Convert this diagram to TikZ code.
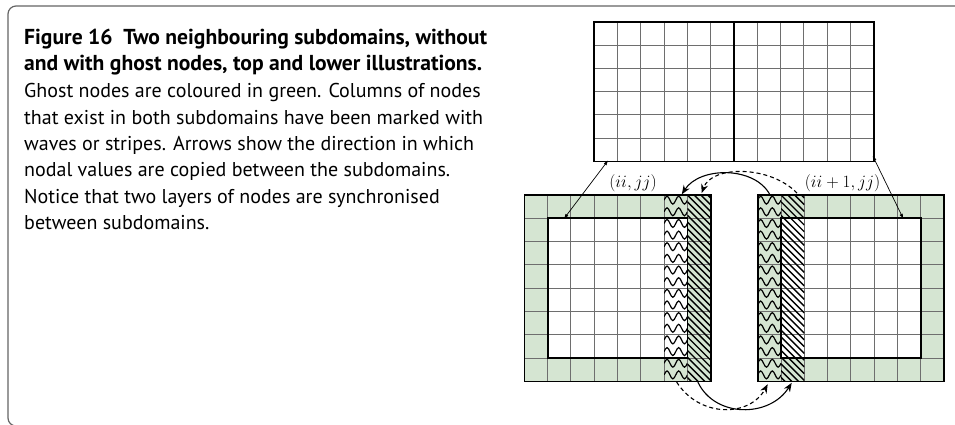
\documentclass[tikz,border=0pt]{standalone}
\usepackage{fontspec}
\usetikzlibrary{arrows.meta}
\newfontfamily\capfont{PT Sans}
\definecolor{ghostgreen}{RGB}{213,229,210}
\definecolor{gridgray}{RGB}{110,110,110}
\definecolor{framegray}{RGB}{100,100,100}

% wavy marking of one column (in cell units of the enclosing scope)
\newcommand{\wavecolumn}[1]{%
  \begin{scope}
    \clip (#1,0) rectangle ({#1+1},8);
    \foreach \k in {0,...,16}
      \draw[waveline] (#1,{\k*0.5+0.22})
        sin ++(0.125,-0.17) cos ++(0.125,0.17) sin ++(0.125,0.17) cos ++(0.125,-0.17)
        sin ++(0.125,-0.17) cos ++(0.125,0.17) sin ++(0.125,0.17) cos ++(0.125,-0.17);
  \end{scope}}
% striped marking of one column
\newcommand{\stripecolumn}[1]{%
  \begin{scope}
    \clip (#1,0) rectangle ({#1+1},8);
    \foreach \k in {-4,...,28}
      \draw[stripeline] (#1,{\k*0.29}) -- ++(1,1);
  \end{scope}}
% cell grid of an 8x8 subdomain with ghost layer
\newcommand{\subdomaingrid}{%
  \fill[ghostgreen] (0,0) rectangle (8,8);
  \fill[white] (1,1) rectangle (7,7);
  \foreach \i in {1,...,7} {
    \draw[gridline] (\i,0) -- (\i,8);
    \draw[gridline] (0,\i) -- (8,\i);
  }}

\begin{document}
\begin{tikzpicture}[x=1pt,y=-1pt,
  gridline/.style={draw=gridgray,line width=0.9pt},
  domainedge/.style={draw=black,line width=1.6pt},
  inneredge/.style={draw=black,line width=1.8pt},
  waveline/.style={draw=black,line width=1.2pt},
  stripeline/.style={draw=black,line width=1.4pt},
  copyarrow/.style={line width=1.1pt,-{Stealth[length=9pt,width=7pt]}},
  copydashed/.style={copyarrow,dash pattern=on 4pt off 3pt},
  linkarrow/.style={line width=0.7pt,{Latex[length=5pt,width=3.5pt]}-{Latex[length=5pt,width=3.5pt]}},
  capline/.style={anchor=base west,inner sep=0pt,font=\capfont\fontsize{20}{24}\selectfont},
  caphead/.style={anchor=base west,inner sep=0pt,font=\capfont\bfseries\fontsize{21.6}{25}\selectfont},
  idx/.style={inner sep=0pt,font=\fontsize{18}{21}\selectfont}
]
\useasboundingbox (0,0) rectangle (955,424);

% caption frame
\draw[framegray,line width=1.2pt,rounded corners=8pt] (975,6) -- (8,6) -- (8,426) -- (975,426);

% caption text
\node[caphead] (cap1) at (24,44.3) {Figure 16\hspace{0.5em}Two neighbouring subdomains, without};
\node[caphead] (cap2) at (24,70.8) {and with ghost nodes, top and lower illustrations.};
\node[capline] (cap3) at (24,97.5) {Ghost nodes are coloured in green. Columns of nodes};
\node[capline] (cap4) at (24,124) {that exist in both subdomains have been marked with};
\node[capline] (cap5) at (24,150.5) {waves or stripes. Arrows show the direction in which};
\node[capline] (cap6) at (24,176.8) {nodal values are copied between the subdomains.};
\node[capline] (cap7) at (24,203.3) {Notice that two layers of nodes are synchronised};
\node[capline] (cap8) at (24,229.8) {between subdomains.};

% top: two subdomains without ghost nodes
\begin{scope}[shift={(594.2,21.7)},x=23.3pt,y=-23.3pt]
  \foreach \i in {1,...,11} \draw[gridline] (\i,0) -- (\i,6);
  \foreach \j in {1,...,5} \draw[gridline] (0,\j) -- (12,\j);
  \draw[domainedge] (0,0) rectangle (12,6);
  \draw[black,line width=2pt] (6,0) -- (6,6);
  \coordinate (topBL) at (0.6,5.95);
  \coordinate (topBR) at (11.95,5.75);
\end{scope}

% lower left: subdomain (ii,jj) with ghost nodes
\begin{scope}[shift={(524.3,195)},x=23.3pt,y=-23.3pt]
  \subdomaingrid
  \wavecolumn{6}
  \stripecolumn{7}
  \draw[domainedge] (0,0) rectangle (8,8);
  \draw[inneredge] (1,1) rectangle (7,7);
  \coordinate (innerL) at (1.7,1.02);
  \coordinate (LwaveTop) at (6.76,-0.03);
  \coordinate (LstripeTop) at (7.61,-0.08);
  \coordinate (LwaveBot) at (6.54,8.03);
  \coordinate (LstripeBot) at (7.45,8.03);
\end{scope}

% lower right: subdomain (ii+1,jj) with ghost nodes
\begin{scope}[shift={(757.7,195)},x=23.3pt,y=-23.3pt]
  \subdomaingrid
  \wavecolumn{0}
  \stripecolumn{1}
  \draw[domainedge] (0,0) rectangle (8,8);
  \draw[inneredge] (1,1) rectangle (7,7);
  \coordinate (innerR) at (6.25,1.02);
  \coordinate (RwaveTop) at (0.53,0);
  \coordinate (RstripeTop) at (1.69,-0.08);
  \coordinate (RwaveBot) at (0.43,8.12);
  \coordinate (RstripeBot) at (1.46,8.06);
\end{scope}

% index labels
\node[idx] (lblL) at (633,183) {$(ii,jj)$};
\node[idx] (lblR) at (842.5,183) {$(ii+1,jj)$};

% correspondence between top and lower illustrations
\draw[linkarrow] (topBL) -- (innerL);
\draw[linkarrow] (topBR) -- (innerR);

% copy directions
\draw[copyarrow] (RwaveTop) .. controls +(-15,-29) and +(18,-28) .. (LwaveTop);
\draw[copydashed] (RstripeTop) .. controls +(-27,-28) and +(10,-28) .. (LstripeTop);
\draw[copydashed] (LwaveBot) .. controls +(23,36) and +(-18,33) .. (RwaveBot);
\draw[copyarrow] (LstripeBot) .. controls +(17,36) and +(-22,35) .. (RstripeBot);
\end{tikzpicture}
\end{document}
